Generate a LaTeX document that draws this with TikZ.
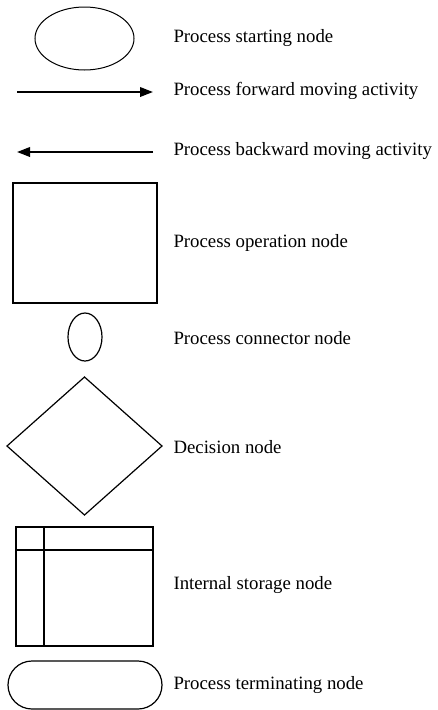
\documentclass[tikz,border=0pt]{standalone}
\usepackage{fontspec}
\setmainfont{Liberation Serif}
\usetikzlibrary{arrows.meta,shapes.geometric,positioning}
\tikzset{
  every picture/.style={line width=1pt, line join=miter,
    >={Triangle[length=13pt,width=9.5pt]}},
  every node/.style={font=\fontsize{18.8}{22}\selectfont},
  % Symbole
  sym/.style={draw, inner sep=0pt, outer sep=0pt},
  startnode/.style={sym, ellipse, minimum width=99pt, minimum height=63pt},
  opnode/.style={sym, rectangle, line width=1.7pt, minimum width=144pt, minimum height=120pt},
  connnode/.style={sym, ellipse, line width=1.2pt, minimum width=34pt, minimum height=48pt},
  decnode/.style={sym, diamond, line width=1.2pt, minimum width=155pt, minimum height=138pt},
  storenode/.style={sym, rectangle, line width=2pt, minimum width=137pt, minimum height=119pt},
  endnode/.style={sym, rectangle, rounded corners=24pt, line width=1.2pt, minimum width=154pt, minimum height=48pt},
  % Pfeile
  vec/.style={line width=2pt, ->},
  % Beschriftung
  lbl/.style={anchor=west, inner sep=0pt},
}
\begin{document}
\begin{tikzpicture}[x=1pt, y=-1pt]
  \useasboundingbox (0,0) rectangle (438,710);
  % Start
  \node[startnode] (start) at (84.5,38.5) {};
  \node[lbl] (startlbl) at (173,38) {Process starting node};
  % Vorwaerts / rueckwaerts
  \coordinate (fwdA) at (17,92);  \coordinate (fwdB) at (153,92);
  \draw[vec] (fwdA) -- (fwdB);
  \node[lbl] (fwdlbl) at (173,91) {Process forward moving activity};
  \coordinate (bwdA) at (153,152); \coordinate (bwdB) at (17,152);
  \draw[vec] (bwdA) -- (bwdB);
  \node[lbl] (bwdlbl) at (173,151) {Process backward moving activity};
  % Operation
  \node[opnode] (op) at (85,243) {};
  \node[lbl] (oplbl) at (173,243) {Process operation node};
  % Konnektor
  \node[connnode] (conn) at (85,337) {};
  \node[lbl] (connlbl) at (173,338) {Process connector node};
  % Entscheidung
  \node[decnode] (dec) at (84.5,446) {};
  \node[lbl] (declbl) at (173,447) {Decision node};
  % Interner Speicher
  \node[storenode] (store) at (84.5,586.5) {};
  \draw[line width=2pt] ([xshift=28pt]store.north west) -- ([xshift=28pt]store.south west)
    ([yshift=-23pt]store.north west) -- ([yshift=-23pt]store.north east);
  \node[lbl] (storelbl) at (173,585) {Internal storage node};
  % Ende
  \node[endnode] (stop) at (85,685) {};
  \node[lbl] (stoplbl) at (173,685) {Process terminating node};
\end{tikzpicture}
\end{document}
